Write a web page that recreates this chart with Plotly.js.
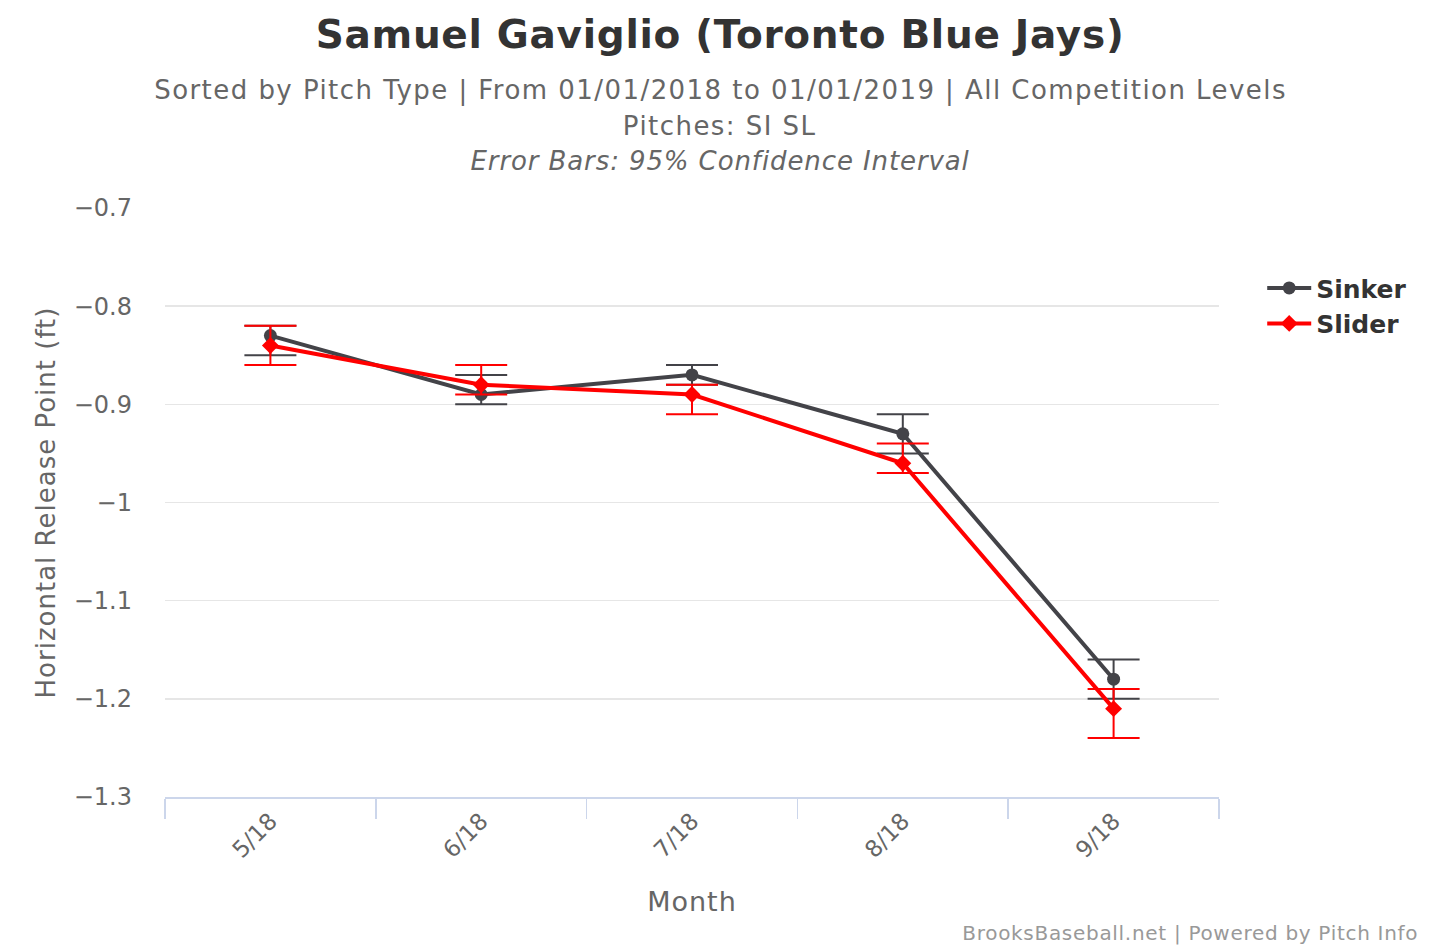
<!DOCTYPE html>
<html>
<head>
<meta charset="utf-8">
<script src="https://cdn.plot.ly/plotly-3.0.1.min.js"></script>
<style>
html,body{margin:0;padding:0;background:#fff;}
#chart{width:1439px;height:950px;}
#chart g.annotation[data-index="0"] text{letter-spacing:0.7px;}
#chart g.annotation[data-index="1"] text,
#chart g.annotation[data-index="2"] text{letter-spacing:1.45px;}
#chart g.annotation[data-index="3"] text{letter-spacing:0.9px;}
#chart g.annotation[data-index="4"] text{letter-spacing:0.7px;}
#chart .ytitle, #chart .xtitle{letter-spacing:1px;}
</style>
</head>
<body>
<div id="chart"></div>
<script>
const months = ["5/18", "6/18", "7/18", "8/18", "9/18"];
const sinkerValues = [-0.83, -0.89, -0.87, -0.93, -1.18];
const sinkerHigh = [-0.82, -0.87, -0.86, -0.91, -1.16];
const sinkerLow = [-0.85, -0.90, -0.88, -0.95, -1.20];
const sliderValues = [-0.84, -0.88, -0.89, -0.96, -1.21];
const sliderHigh = [-0.82, -0.86, -0.88, -0.94, -1.19];
const sliderLow = [-0.86, -0.89, -0.91, -0.97, -1.24];

const FONT = "DejaVu Sans, Verdana, sans-serif";

function errs(vals, hi, lo) {
  return {
    type: "data", symmetric: false,
    array: vals.map((v, i) => +(hi[i] - v).toFixed(4)),
    arrayminus: vals.map((v, i) => +(v - lo[i]).toFixed(4))
  };
}

const sinker = {
  x: months, y: sinkerValues, name: "Sinker", type: "scatter", mode: "lines+markers",
  line: {color: "#434348", width: 4},
  marker: {symbol: "circle", size: 13, color: "#434348"},
  error_y: Object.assign(errs(sinkerValues, sinkerHigh, sinkerLow), {color: "#434348", thickness: 2, width: 26})
};
const slider = {
  x: months, y: sliderValues, name: "Slider", type: "scatter", mode: "lines+markers",
  line: {color: "#ff0000", width: 4},
  marker: {symbol: "diamond", size: 13, color: "#ff0000"},
  error_y: Object.assign(errs(sliderValues, sliderHigh, sliderLow), {color: "#ff0000", thickness: 2, width: 26})
};

const cx = 0.5266;
const layout = {
  width: 1439, height: 950,
  margin: {l: 165, r: 220, t: 208, b: 153},
  paper_bgcolor: "#ffffff", plot_bgcolor: "#ffffff",
  font: {family: FONT, color: "#666666"},
  showlegend: true,
  legend: {x: 1.041, y: 0.903, xanchor: "left", yanchor: "top", font: {family: FONT, size: 25, color: "#333333", weight: "bold"}, itemwidth: 44, tracegroupgap: 0},
  xaxis: {
    type: "category", range: [-0.5, 4.5], tickson: "boundaries",
    ticks: "outside", ticklen: 20, tickwidth: 1.5, tickcolor: "#ccd6eb",
    showline: true, linecolor: "#ccd6eb", linewidth: 1.5,
    showgrid: false, tickangle: -45,
    tickfont: {family: FONT, size: 23, color: "#666666"},
    title: {text: "Month", font: {family: FONT, size: 27, color: "#666666"}, standoff: 30}
  },
  yaxis: {
    range: [-1.3, -0.7], dtick: 0.1, tick0: -1.3,
    showgrid: true, gridcolor: "#e6e6e6", gridwidth: 1.5,
    zeroline: false, showline: false, ticks: "",
    ticklabelstandoff: 32,
    tickfont: {family: FONT, size: 24, color: "#666666"},
    title: {text: "Horizontal Release Point (ft)", font: {family: FONT, size: 26, color: "#666666"}, standoff: 10}
  },
  annotations: [
    {text: "<b>Samuel Gaviglio (Toronto Blue Jays)</b>", xref: "paper", yref: "paper", x: cx, y: 1.294, xanchor: "center", yanchor: "middle", showarrow: false, font: {family: FONT, size: 39, color: "#333333"}},
    {text: "Sorted by Pitch Type | From 01/01/2018 to 01/01/2019 | All Competition Levels", xref: "paper", yref: "paper", x: cx, y: 1.2003, xanchor: "center", yanchor: "middle", showarrow: false, font: {family: FONT, size: 26, color: "#666666"}},
    {text: "Pitches: SI SL", xref: "paper", yref: "paper", x: cx, y: 1.139, xanchor: "center", yanchor: "middle", showarrow: false, font: {family: FONT, size: 26, color: "#666666"}},
    {text: "<i>Error Bars: 95% Confidence Interval</i>", xref: "paper", yref: "paper", x: cx, y: 1.080, xanchor: "center", yanchor: "middle", showarrow: false, font: {family: FONT, size: 26, color: "#666666"}},
    {text: "BrooksBaseball.net | Powered by Pitch Info", xref: "paper", yref: "paper", x: 1.177, y: -0.231, xanchor: "right", yanchor: "middle", showarrow: false, font: {family: FONT, size: 20, color: "#999999"}}
  ]
};

Plotly.newPlot("chart", [sinker, slider], layout, {displayModeBar: false, staticPlot: true});
</script>
</body>
</html>
